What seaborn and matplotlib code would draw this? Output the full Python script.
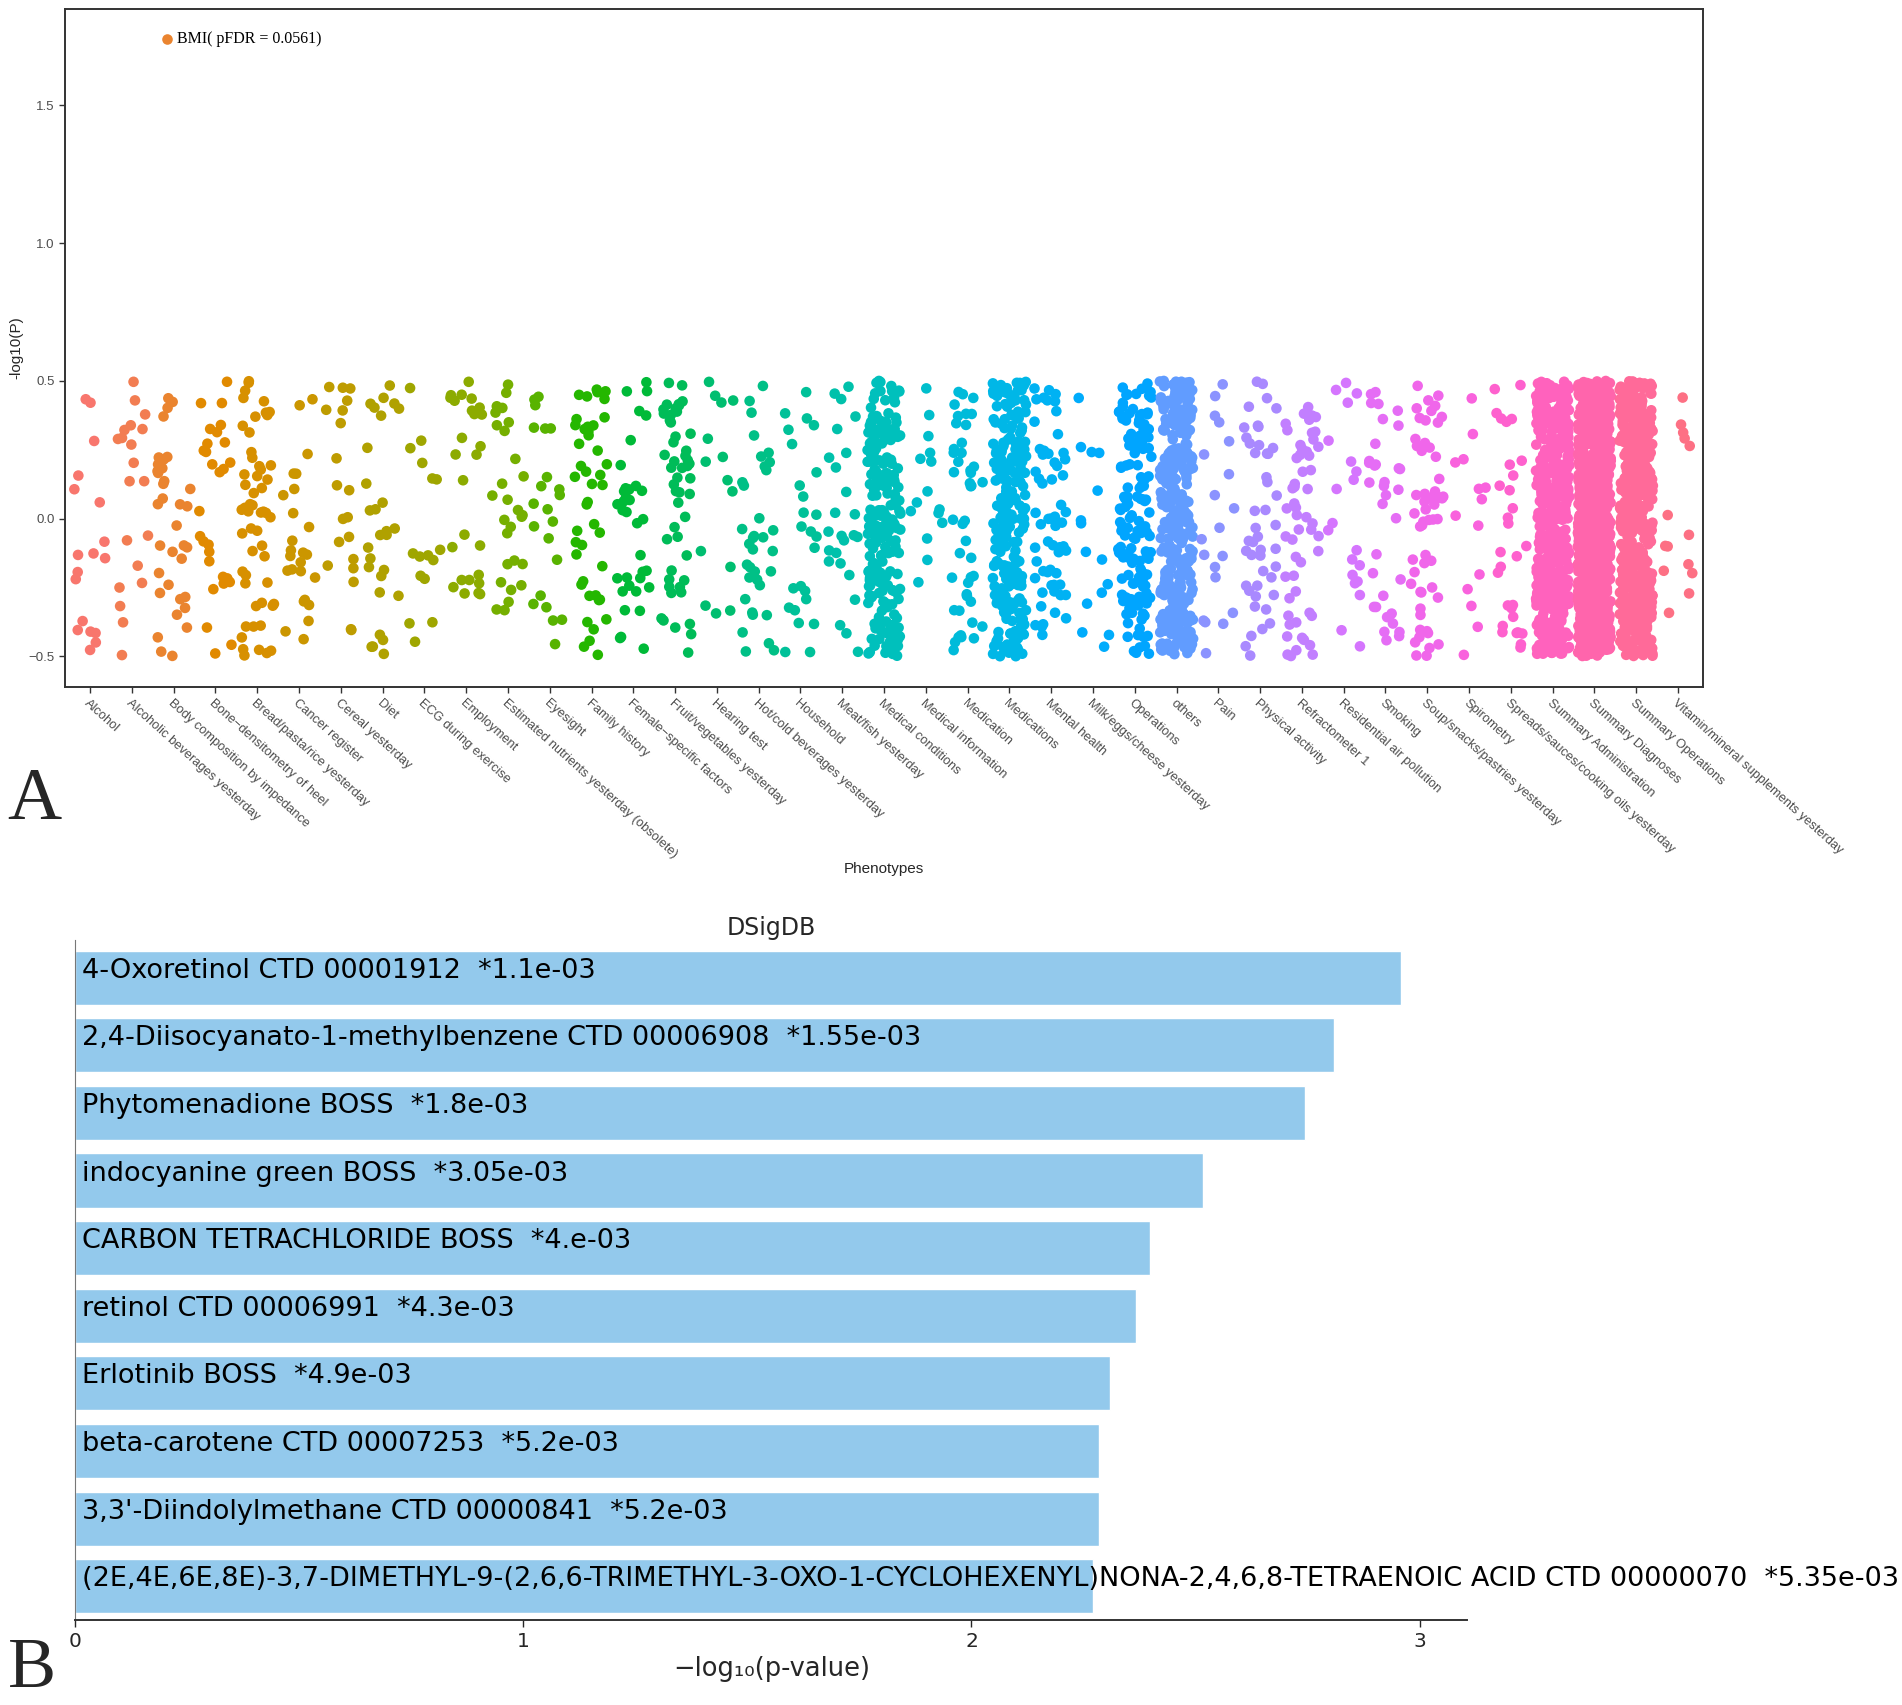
import numpy as np
import pandas as pd
import matplotlib
matplotlib.use("Agg")
import matplotlib.pyplot as plt
import seaborn as sns

# ---- panel A: PheWAS of UK Biobank phenotype groups ----
phenotype_groups = [
    "Alcohol", "Alcoholic beverages yesterday", "Body composition by impedance",
    "Bone\u2212densitometry of heel", "Bread/pasta/rice yesterday", "Cancer register",
    "Cereal yesterday", "Diet", "ECG during exercise", "Employment",
    "Estimated nutrients yesterday (obsolete)", "Eyesight", "Family history",
    "Female\u2212specific factors", "Fruit/vegetables yesterday", "Hearing test",
    "Hot/cold beverages yesterday", "Household", "Meat/fish yesterday",
    "Medical conditions", "Medical information", "Medication", "Medications",
    "Mental health", "Milk/eggs/cheese yesterday", "Operations", "others", "Pain",
    "Physical activity", "Refractometer 1", "Residential air pollution", "Smoking",
    "Soup/snacks/pastries yesterday", "Spirometry",
    "Spreads/sauces/cooking oils yesterday", "Summary Administration",
    "Summary Diagnoses", "Summary Operations", "Vitamin/mineral supplements yesterday",
]
# number of phenotypes per group (counted roughly off the picture)
n_phenotypes = [
    18, 20, 35, 28, 55, 25, 20, 28, 16, 26,
    28, 22, 45, 35, 50, 14, 35, 25, 25, 220,
    15, 45, 230, 60, 15, 140, 320, 20, 45, 55,
    20, 35, 55, 14, 30, 500, 900, 500, 14,
]
# -log10(pFDR) of the non significant phenotypes (pFDR ~ 1)
base_value = 0.0

bmi_group = "Body composition by impedance"
bmi_label = "BMI( pFDR = 0.0561)"
bmi_y = 1.74        # where the BMI point is drawn in the original
bmi_x_shift = -0.15  # its horizontal jitter in the original

# ---- panel B: DSigDB enrichment ----
drugs = [
    "4-Oxoretinol CTD 00001912",
    "2,4-Diisocyanato-1-methylbenzene CTD 00006908",
    "Phytomenadione BOSS",
    "indocyanine green BOSS",
    "CARBON TETRACHLORIDE BOSS",
    "retinol CTD 00006991",
    "Erlotinib BOSS",
    "beta-carotene CTD 00007253",
    "3,3'-Diindolylmethane CTD 00000841",
    "(2E,4E,6E,8E)-3,7-DIMETHYL-9-(2,6,6-TRIMETHYL-3-OXO-1-CYCLOHEXENYL)NONA-2,4,6,8-TETRAENOIC ACID CTD 00000070",
]
drug_pvalues = ["1.1e-03", "1.55e-03", "1.8e-03", "3.05e-03", "4.e-03",
                "4.3e-03", "4.9e-03", "5.2e-03", "5.2e-03", "5.35e-03"]


def hcl_hex(h, c=100.0, l=65.0):
    # R's hcl() -> sRGB, same as ggplot's hue_pal
    hr = np.deg2rad(h)
    u, v = c * np.cos(hr), c * np.sin(hr)
    xn, yn, zn = 95.047, 100.0, 108.883
    y = yn * ((l + 16) / 116) ** 3
    den = xn + 15 * yn + 3 * zn
    up = u / (13 * l) + 4 * xn / den
    vp = v / (13 * l) + 9 * yn / den
    x = 9 * y * up / (4 * vp)
    z = y * (12 - 3 * up - 20 * vp) / (4 * vp)
    m = np.array([[3.240479, -1.537150, -0.498535],
                  [-0.969256, 1.875992, 0.041556],
                  [0.055648, -0.204043, 1.057311]])
    rgb = m @ (np.array([x, y, z]) / 100)
    rgb = np.where(rgb <= 0.0031308, 12.92 * rgb, 1.055 * np.abs(rgb) ** (1 / 2.4) - 0.055)
    rgb = np.clip(rgb, 0, 1)
    return matplotlib.colors.to_hex(rgb)


n_groups = len(phenotype_groups)
hues = np.linspace(15, 375, n_groups + 1)[:-1] % 360
palette = {g: hcl_hex(h) for g, h in zip(phenotype_groups, hues)}

df = pd.DataFrame({
    "group": np.repeat(phenotype_groups, n_phenotypes),
    "value": base_value,
})
df["code"] = df["group"].map({g: i for i, g in enumerate(phenotype_groups)})
# position adjustment like ggplot's geom_jitter(width=0.4, height=0.5)
rng = np.random.default_rng(11)
df["xj"] = df["code"] + rng.uniform(-0.4, 0.4, len(df))
df["yj"] = df["value"] + rng.uniform(-0.5, 0.5, len(df))

sns.set_style("white")

fig = plt.figure(figsize=(19.02, 17.05), dpi=100)

# ---------------- panel A ----------------
axA = fig.add_axes([0.0342, 0.597, 0.8612, 0.398])
sns.scatterplot(data=df, x="xj", y="yj", hue="group", palette=palette,
                s=58, linewidth=0, legend=False, ax=axA)
bmi_code = phenotype_groups.index(bmi_group)
sns.scatterplot(x=[bmi_code + bmi_x_shift], y=[bmi_y], color=palette[bmi_group],
                s=58, linewidth=0, legend=False, ax=axA)
axA.text(bmi_code + bmi_x_shift + 0.24, bmi_y, bmi_label, va="center", ha="left",
         family="Liberation Serif", fontsize=11.5, color="black")

axA.set_xlim(-0.6, n_groups - 0.4)
axA.set_ylim(-0.612, 1.852)
axA.set_yticks([-0.5, 0.0, 0.5, 1.0, 1.5])
axA.set_yticklabels(["\u22120.5", "0.0", "0.5", "1.0", "1.5"])
axA.set_xticks(range(n_groups))
axA.set_xticklabels(phenotype_groups, rotation=-42, ha="left", va="top",
                    rotation_mode="anchor")
axA.tick_params(axis="both", length=4, width=1, color="#333333",
                labelcolor="#4D4D4D", labelsize=9.5, direction="out",
                bottom=True, left=True)
axA.tick_params(axis="x", labelsize=9.3)
for lab in axA.get_xticklabels() + axA.get_yticklabels():
    lab.set_family("Liberation Sans")
for sp in axA.spines.values():
    sp.set_visible(True)
    sp.set_color("#333333")
    sp.set_linewidth(1.4)
axA.set_xlabel("Phenotypes", family="Liberation Sans", fontsize=11, labelpad=1)
axA.set_ylabel("-log10(P)", family="Liberation Sans", fontsize=11, labelpad=4)

# ---------------- panel B ----------------
axB = fig.add_axes([0.0395, 0.0498, 0.732, 0.3986])
bar_df = pd.DataFrame({
    "drug": drugs,
    "neglog": -np.log10([float(p) for p in drug_pvalues]),
})
sns.barplot(data=bar_df, x="neglog", y="drug", orient="h", color="#93C9EC",
            saturation=1, width=0.8, ax=axB)
for i, (d, p) in enumerate(zip(drugs, drug_pvalues)):
    axB.text(0.016, i, f"{d}  *{p}", va="baseline", ha="left", fontsize=19.5,
             color="black", clip_on=False)
axB.set_ylim(9.5, -0.55)
axB.set_xlim(0, bar_df["neglog"].max() * 1.05)
axB.set_yticks([])
axB.set_ylabel("")
axB.set_xticks([0, 1, 2, 3])
axB.tick_params(axis="x", length=5, width=1, labelsize=14.5, bottom=True)
axB.set_xlabel("\u2212log\u2081\u2080(p-value)", fontsize=18.5, labelpad=4)
axB.set_title("DSigDB", fontsize=17, pad=4)
sns.despine(ax=axB)
axB.spines["left"].set_color("#777777")
axB.spines["bottom"].set_color("#333333")
axB.spines["bottom"].set_linewidth(1.4)

# panel letters
fig.text(0.004, 0.530, "A", family="Liberation Serif", fontsize=54, va="center")
fig.text(0.004, 0.021, "B", family="Liberation Serif", fontsize=52, va="center")

fig.savefig("out.png", dpi=100, facecolor="white")
